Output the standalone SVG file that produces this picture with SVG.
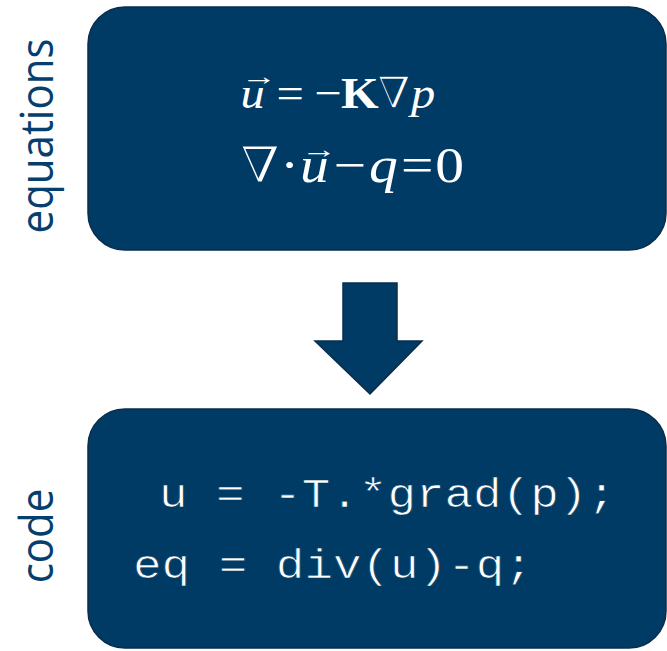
<svg xmlns="http://www.w3.org/2000/svg" width="667" height="651" viewBox="0 0 667 651">
<style>
.box{fill:#003b66;stroke:#0a2c4b;stroke-width:1.5}
.lbl{font-family:"Open Sans","Noto Sans",sans-serif;font-size:42px;fill:#063f6e}
.m{font-family:"Liberation Serif","DejaVu Serif",serif;fill:#fff}
.i{font-style:italic}
.b{font-weight:bold}
.nab{stroke:#003b66;stroke-width:1.6}
.code{font-family:"Liberation Mono","DejaVu Sans Mono",monospace;font-size:40px;fill:#fff;stroke:#003b66;stroke-width:0.7}
</style>
<rect width="667" height="651" fill="#fff"/>
<g id="equations-label"><text class="lbl" transform="translate(53,136) rotate(-90) scale(1,1.1)" text-anchor="middle">equations</text></g>
<g id="code-label"><text class="lbl" transform="translate(53,536) rotate(-90) scale(1,1.1)" text-anchor="middle">code</text></g>
<g id="equations">
<rect class="box" x="88" y="7" width="578" height="243" rx="37"/>
<text class="m" style="font-size:44px" transform="translate(0,108) scale(1.1,1)"><tspan class="i" x="218.6">u</tspan><tspan x="251.4">=</tspan><tspan x="285.9">−</tspan><tspan class="b" x="310">K</tspan><tspan class="nab" x="342.7">∇</tspan><tspan class="i" x="373.6">p</tspan></text>
<text class="m" style="font-size:50px" transform="translate(0,181.5) scale(1.15,1)"><tspan class="nab" x="208.7">∇</tspan><tspan x="243.5">·</tspan><tspan class="i" x="260.9">u</tspan><tspan x="290">−</tspan><tspan class="i" x="320.9">q</tspan><tspan x="348.7">=</tspan><tspan x="378.6">0</tspan></text>
<text class="m" style="font-size:36px" transform="translate(241,85) scale(1,0.7)">→</text>
<text class="m" style="font-size:36px" transform="translate(301,158) scale(1,0.7)">→</text>
</g>
<g id="code">
<rect class="box" x="88" y="409" width="578" height="239" rx="37"/>
<g transform="scale(1.19,1)">
<text class="code" x="133.6" y="507">u = -T.*grad(p);</text>
<text class="code" x="111.8" y="578">eq = div(u)-q;</text>
</g>
</g>
<g id="connectors">
<polygon class="box" points="343,283 397,283 397,341 422,341 370,394 315,341 343,341"/>
</g>
</svg>
